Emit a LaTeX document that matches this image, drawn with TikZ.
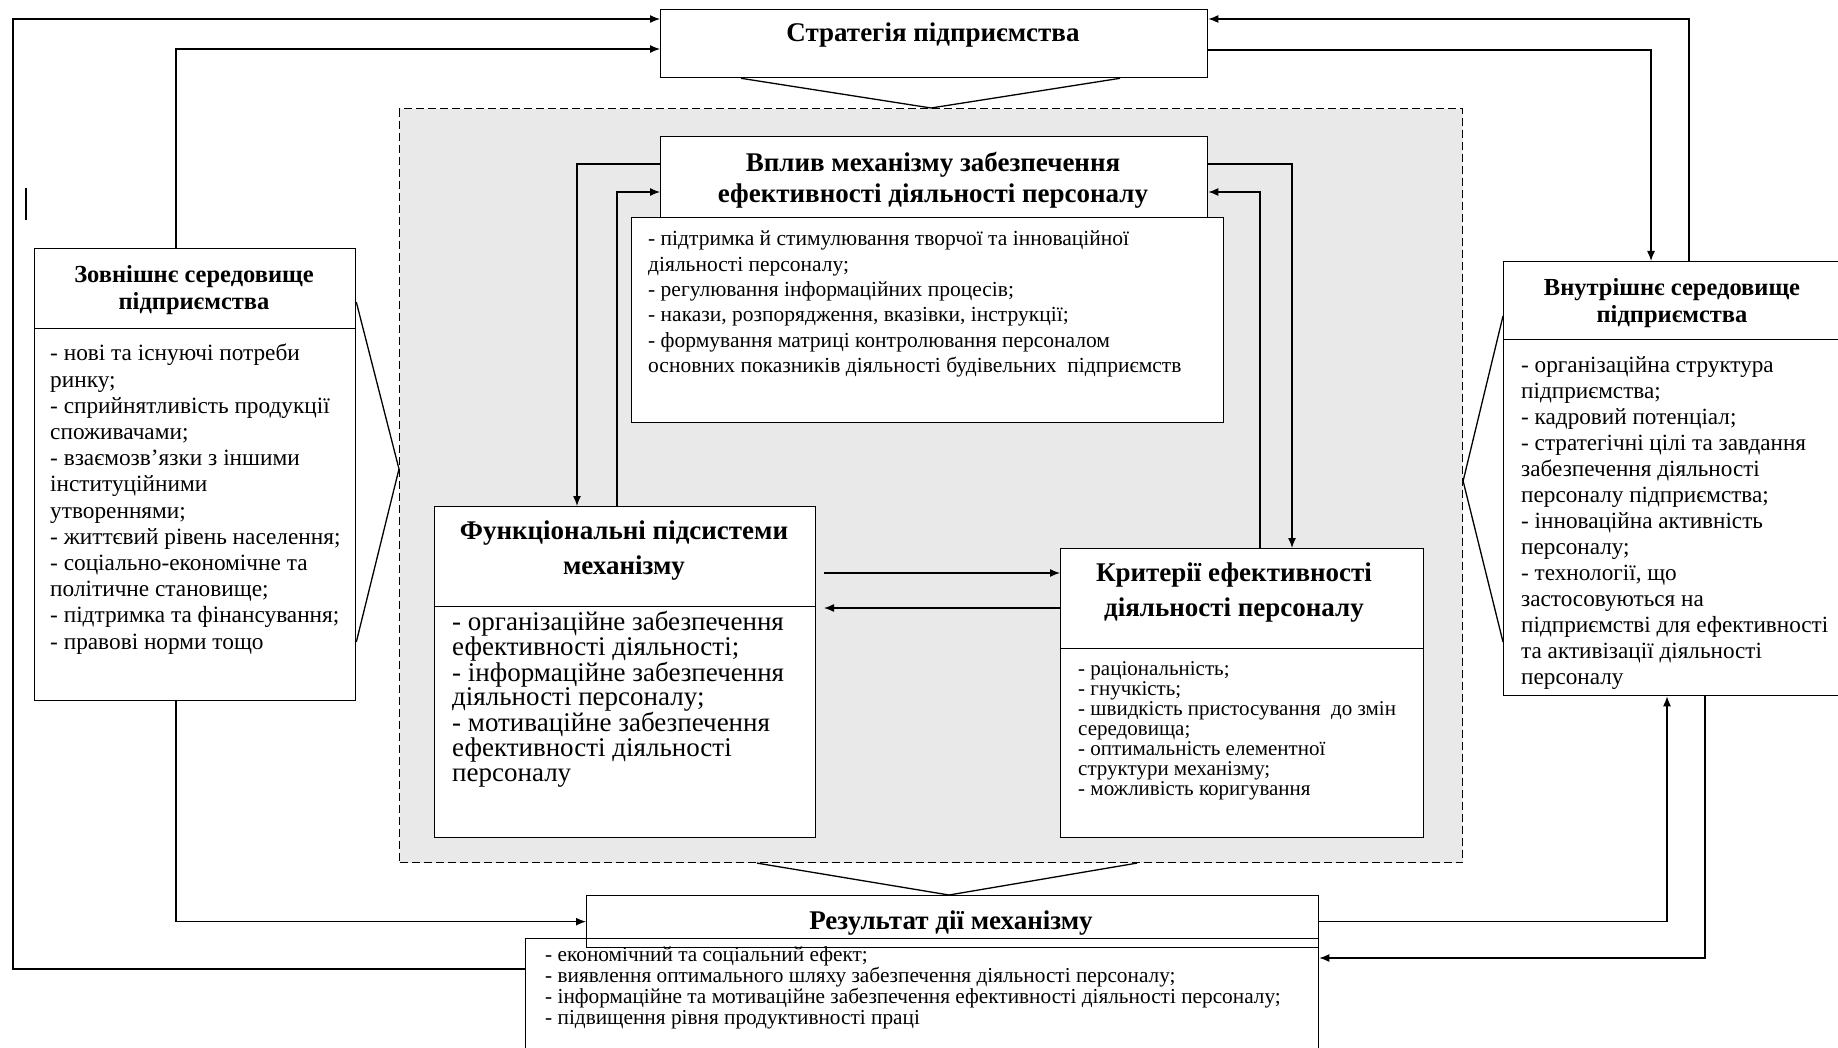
\documentclass[tikz,border=0pt]{standalone}
\usepackage{fontspec}
\setmainfont{Liberation Serif}
\usetikzlibrary{arrows.meta}
\tikzset{>={Latex[length=10pt,width=8pt]},
  box/.style={draw,line width=1.3pt,fill=white,inner sep=0pt,anchor=north west},
  ttl/.style={font=\fontsize{27}{35}\selectfont\bfseries,align=center,inner sep=0pt},
  ttlsmall/.style={font=\fontsize{24.5}{27}\selectfont\bfseries,align=center,inner sep=0pt},
  txt/.style={align=left,inner sep=0pt,anchor=north west},
  conn/.style={line width=1.3pt}}

\begin{document}
\begin{tikzpicture}[x=1pt,y=-1pt]
\useasboundingbox (0,0) rectangle (1838,1048);
% mechanism area
\node[box,dash pattern=on 8pt off 4pt,line width=1.1pt,fill=gray!17,
  minimum width=1063pt,minimum height=754pt] (mech) at (399,108) {};

% boxes
\node[box,minimum width=547pt,minimum height=68pt] (strat) at (660,9) {};
\node[box,minimum width=547pt,minimum height=81pt] (vplT) at (660,136) {};
\node[box,minimum width=592pt,minimum height=205pt] (vplB) at (631,217) {};
\node[box,minimum width=321pt,minimum height=80pt] (extT) at (34,248) {};
\node[box,minimum width=321pt,minimum height=372pt] (extB) at (34,328) {};
\node[box,minimum width=340pt,minimum height=78pt] (intT) at (1503,261) {};
\node[box,minimum width=340pt,minimum height=356pt] (intB) at (1503,339) {};
\node[box,minimum width=381pt,minimum height=100pt] (funT) at (434,506) {};
\node[box,minimum width=381pt,minimum height=231pt] (funB) at (434,606) {};
\node[box,minimum width=363pt,minimum height=100pt] (kriT) at (1060,548) {};
\node[box,minimum width=363pt,minimum height=189pt] (kriB) at (1060,648) {};
\node[box,fill=none,minimum width=793pt,minimum height=130pt] (resB) at (525,938) {};
\node[box,fill=none,minimum width=732pt,minimum height=52pt] (resT) at (586,895) {};

% titles
\node[ttl] (stratL) at (933,35) {Стратегія підприємства};
\node[ttl,font=\fontsize{27}{31}\selectfont\bfseries] (vplL) at (933,180)
  {Вплив механізму забезпечення\\ефективності діяльності персоналу};
\node[ttlsmall] (extL) at (194,290) {Зовнішнє середовище\\підприємства};
\node[ttlsmall] (intL) at (1672,303) {Внутрішнє середовище\\підприємства};
\node[ttl] (funL) at (624,551) {Функціональні підсистеми\\механізму};
\node[ttl] (kriL) at (1234,593) {Критерії ефективності\\діяльності персоналу};
\node[ttl] (resL) at (951,923) {Результат дії механізму};

% lists
\node[txt,font=\fontsize{21.5}{25.3}\selectfont] (vplX) at (648,231)
  {- підтримка й стимулювання творчої та інноваційної\\діяльності персоналу;\\- регулювання інформаційних процесів;\\- накази, розпорядження, вказівки, інструкції;\\- формування матриці контролювання персоналом\\основних показників діяльності будівельних\ \ підприємств};
\node[txt,font=\fontsize{23.3}{26.2}\selectfont] (extX) at (50,344)
  {- нові та існуючі потреби\\ринку;\\- сприйнятливість продукції\\споживачами;\\- взаємозв’язки з іншими\\інституційними\\утвореннями;\\- життєвий рівень населення;\\- соціально-економічне та\\політичне становище;\\- підтримка та фінансування;\\- правові норми тощо};
\node[txt,font=\fontsize{23.2}{26}\selectfont] (intX) at (1521,356)
  {- організаційна структура\\підприємства;\\- кадровий потенціал;\\- стратегічні цілі та завдання\\забезпечення діяльності\\персоналу підприємства;\\- інноваційна активність\\персоналу;\\- технології, що\\застосовуються на\\підприємстві для ефективності\\та активізації діяльності\\персоналу};
\node[txt,font=\fontsize{27}{24.6}\selectfont] (funX) at (452,611)
  {- організаційне забезпечення\\ефективності діяльності;\\- інформаційне забезпечення\\діяльності персоналу;\\- мотиваційне забезпечення\\ефективності діяльності\\персоналу};
\node[txt,font=\fontsize{21}{20}\selectfont] (kriX) at (1078,661)
  {- раціональність;\\- гнучкість;\\- швидкість пристосування\ \ до змін\\середовища;\\- оптимальність елементної\\структури механізму;\\- можливість коригування};
\node[txt,font=\fontsize{21.3}{20.7}\selectfont] (resX) at (545,947)
  {- економічний та соціальний ефект;\\- виявлення оптимального шляху забезпечення діяльності персоналу;\\- інформаційне та мотиваційне забезпечення ефективності діяльності персоналу;\\- підвищення рівня продуктивності праці};

% funnels
\draw[conn] (strat.south -| 741,0) -- (mech.north) -- (strat.south -| 1120,0);
\draw[conn] (extT.east |- 0,302) -- (mech.west |- 0,469) -- (extB.east |- 0,642);
\draw[conn] (intT.west |- 0,316) -- (mech.east |- 0,481) -- (intB.west |- 0,642);
\draw[conn] (mech.south -| 757,0) -- (resT.north -| 949,0) -- (mech.south -| 1137,0);

% outer links
\draw[conn,->] (resB.west |- 0,969) -| (13,19) -- (strat.west |- 0,19);
\draw[conn,->] (176,0 |- extT.north) |- (strat.west |- 0,49);
\draw[conn,->] (176,0 |- extB.south) |- (resT.west);
\draw[conn,->] (1689,0 |- intT.north) |- (strat.east |- 0,19);
\draw[conn,->] (strat.east |- 0,50) -| (1651,0 |- intT.north);
\draw[conn,->] (resT.east) -| (1667,0 |- intB.south);
\draw[conn,->] (1705,0 |- intB.south) |- (resB.east |- 0,958);

% inner links
\draw[conn,->] (vplT.west |- 0,164) -| (577,0 |- funT.north);
\draw[conn,->] (617,0 |- funT.north) |- (vplT.west |- 0,192);
\draw[conn,->] (vplT.east |- 0,164) -| (1292,0 |- kriT.north);
\draw[conn,->] (1260,0 |- kriT.north) |- (vplT.east |- 0,192);
\coordinate (fk) at (824,573);
\coordinate (kf) at (824,608);
\draw[conn,->] (fk) -- (kriT.west |- fk);
\draw[conn,->] (kriT.west |- kf) -- (kf);

\draw[line width=2pt] (26,188) -- (26,220);
\end{tikzpicture}
\end{document}
